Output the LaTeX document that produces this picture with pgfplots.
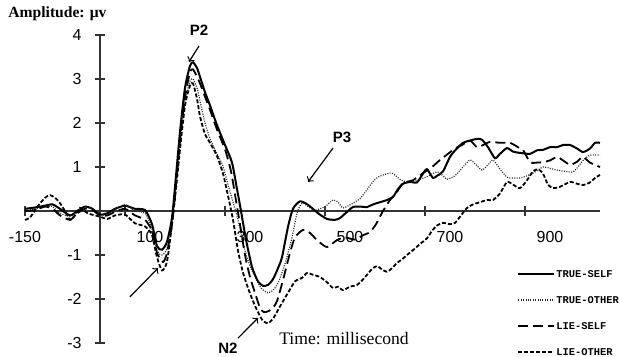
\documentclass[border=0pt]{standalone}
\usepackage{fontspec}
\setmainfont{Liberation Serif}
\setsansfont{Liberation Sans}
\setmonofont{Liberation Mono}
\usepackage{pgfplots}
\pgfplotsset{compat=1.18}
\begin{document}
\begin{tikzpicture}
\useasboundingbox (-12.5pt,-7pt) rectangle (297.5pt,171.5pt);
\begin{axis}[
  at={(0pt,0pt)}, anchor=south west,
  scale only axis, width=287.5pt, height=154pt,
  xmin=-150, xmax=1000, ymin=-3, ymax=4,
  axis lines=middle,
  axis line style={-, line width=0.6pt, black!80},
  clip=false,
  xtick={-150,50,250,450,650,850}, xticklabels={,,,,,},
  extra x ticks={-150,100,300,500,700,900},
  extra x tick labels={-150,100,300,500,700,900},
  extra x tick style={major tick length=0pt, grid=none},
  ytick={-3,-2,-1,1,2,3,4},
  yticklabels={-3,-2,-1,1,2,3,4},
  tick align=center, major tick length=5pt,
  tick style={line width=0.6pt, black!80},
  xticklabel style={anchor=center, inner sep=0pt, yshift=-13pt, font=\sffamily\fontsize{8}{9}\selectfont},
  yticklabel style={anchor=east, inner sep=0pt, xshift=-6.5pt, font=\sffamily\fontsize{8}{9}\selectfont},
  legend style={at={(0.8557,0.0974)}, anchor=west, draw=none, fill=none, inner sep=0pt,
    row sep=8.5pt, font=\ttfamily\bfseries\fontsize{5.2}{5.2}\selectfont,
    nodes={inner sep=0.5pt, text height=3.6pt, text depth=0pt},
    /tikz/every even column/.append style={column sep=1.5pt}},
  legend cell align=left,
  legend image code/.code={\draw[#1] (0pt,0pt) -- (18pt,0pt);},
]
\addplot[black, line width=1pt, smooth, tension=0.4] coordinates {
(-150,0.05) (-130,0.08) (-110,0.12) (-95,0.15) (-80,0.05) (-60,-0.1) (-45,0.0) (-30,0.1) (-15,0.05) (0,-0.08) (15,-0.05) (30,0.05) (50,0.12) (70,0.05) (90,0.02) (104,-0.3) (114,-0.8) (124,-0.88) (134,-0.7) (144,-0.15) (152,0.8) (160,1.8) (170,2.8) (180,3.3) (186,3.38) (194,3.25) (200,3.05) (210,2.7) (220,2.4) (234,1.95) (250,1.5) (264,1.1) (274,0.5) (282,0.0) (292,-0.65) (304,-1.27) (316,-1.6) (326,-1.7) (336,-1.68) (346,-1.55) (356,-1.3) (364,-1.05) (376,-0.36) (386,0.05) (400,0.22) (416,0.14) (436,-0.05) (454,-0.18) (470,-0.2) (480,-0.16) (494,-0.02) (506,0.09) (520,0.1) (534,0.09) (546,0.15) (560,0.2) (574,0.25) (586,0.32) (596,0.5) (606,0.62) (620,0.66) (634,0.65) (646,0.85) (654,0.95) (666,0.75) (674,0.8) (686,0.9) (700,1.23) (712,1.4) (726,1.55) (740,1.6) (754,1.64) (764,1.62) (776,1.45) (790,1.2) (800,1.3) (814,1.43) (826,1.35) (840,1.32) (860,1.3) (874,1.38) (886,1.39) (900,1.45) (914,1.45) (926,1.5) (940,1.5) (954,1.42) (966,1.34) (980,1.42) (990,1.55) (1000,1.55)
};
\addlegendentry{TRUE-SELF}
\addplot[black!85, line width=0.6pt, dash pattern=on 0.5pt off 0.7pt, smooth, tension=0.4] coordinates {
(-150,0.0) (-130,0.05) (-110,0.1) (-95,0.1) (-80,-0.05) (-60,-0.12) (-45,-0.02) (-30,0.08) (-15,0.05) (0,-0.1) (15,-0.08) (30,0.03) (50,0.15) (70,0.0) (90,-0.05) (104,-0.4) (114,-0.9) (124,-1.0) (134,-0.85) (144,-0.2) (152,0.6) (160,1.5) (170,2.5) (180,2.95) (186,3.0) (194,2.8) (200,2.5) (210,2.0) (220,1.65) (234,1.3) (245,1.05) (256,0.6) (266,0.2) (276,-0.2) (290,-0.9) (300,-1.25) (310,-1.5) (322,-1.75) (336,-1.86) (346,-1.8) (356,-1.64) (370,-1.2) (384,-0.6) (394,-0.05) (404,0.18) (416,0.1) (430,0.02) (450,0.1) (466,0.25) (476,0.2) (486,0.07) (500,0.14) (520,0.28) (535,0.5) (550,0.72) (566,0.82) (584,0.86) (600,0.72) (612,0.66) (626,0.66) (640,0.72) (654,0.78) (674,0.89) (686,0.8) (694,0.72) (710,0.8) (726,1.0) (740,1.16) (752,1.05) (764,0.93) (776,1.05) (786,1.16) (800,0.95) (814,0.77) (826,0.75) (840,0.75) (854,0.8) (866,0.86) (886,1.0) (900,0.97) (914,0.93) (930,0.9) (946,0.89) (956,1.0) (966,1.15) (980,1.27) (1000,1.27)
};
\addlegendentry{TRUE-OTHER}
\addplot[black, line width=0.9pt, dash pattern=on 5pt off 2.5pt, smooth, tension=0.4] coordinates {
(-150,0.0) (-130,0.02) (-110,0.1) (-95,0.05) (-80,-0.1) (-60,-0.2) (-45,-0.05) (-30,0.05) (-15,0.02) (0,-0.1) (15,-0.1) (30,-0.02) (50,0.05) (70,-0.1) (90,-0.2) (104,-0.45) (114,-0.95) (126,-1.16) (134,-0.95) (144,-0.3) (152,0.6) (160,1.6) (170,2.6) (180,3.15) (186,3.22) (194,3.05) (200,2.9) (210,2.6) (220,2.3) (234,1.85) (250,1.4) (262,0.9) (274,0.1) (280,-0.3) (290,-1.0) (300,-1.5) (310,-1.86) (320,-2.2) (328,-2.3) (338,-2.27) (346,-2.2) (354,-2.05) (366,-1.57) (380,-0.95) (390,-0.6) (406,-0.43) (420,-0.5) (434,-0.66) (454,-0.82) (474,-0.66) (490,-0.6) (510,-0.65) (526,-0.55) (540,-0.48) (552,-0.3) (566,0.0) (580,0.25) (592,0.4) (606,0.63) (626,0.7) (646,0.86) (664,1.0) (680,1.16) (696,1.3) (710,1.42) (724,1.5) (740,1.6) (754,1.45) (766,1.5) (780,1.57) (800,1.55) (820,1.55) (836,1.45) (846,1.39) (860,1.11) (874,1.1) (886,1.11) (900,1.15) (914,1.23) (926,1.15) (940,1.05) (954,1.12) (966,1.23) (980,1.1) (1000,1.0)
};
\addlegendentry{LIE-SELF}
\addplot[black, line width=0.9pt, dash pattern=on 2pt off 1pt, smooth, tension=0.4] coordinates {
(-150,-0.2) (-140,-0.15) (-125,0.1) (-110,0.3) (-100,0.36) (-90,0.3) (-80,0.18) (-70,0.0) (-60,-0.2) (-50,-0.1) (-40,0.07) (-25,-0.05) (-10,-0.1) (0,-0.13) (15,-0.18) (30,-0.1) (50,-0.08) (70,-0.28) (90,-0.35) (104,-0.55) (114,-1.05) (124,-1.35) (134,-1.15) (144,-0.3) (152,0.5) (160,1.4) (170,2.4) (180,2.85) (186,2.9) (194,2.55) (200,2.15) (210,1.75) (220,1.55) (234,1.25) (246,0.85) (256,0.35) (266,-0.2) (276,-0.9) (286,-1.4) (296,-1.75) (306,-2.05) (316,-2.3) (326,-2.5) (336,-2.55) (346,-2.45) (356,-2.25) (366,-2.05) (376,-1.86) (390,-1.6) (404,-1.52) (414,-1.41) (426,-1.45) (440,-1.5) (454,-1.62) (466,-1.75) (476,-1.72) (486,-1.8) (500,-1.72) (514,-1.68) (524,-1.58) (534,-1.45) (544,-1.32) (554,-1.25) (564,-1.33) (574,-1.38) (584,-1.3) (594,-1.18) (604,-1.1) (614,-1.0) (626,-0.89) (640,-0.75) (654,-0.62) (664,-0.45) (674,-0.33) (686,-0.27) (700,-0.3) (710,-0.27) (722,-0.1) (734,0.07) (746,0.15) (760,0.2) (774,0.25) (786,0.25) (800,0.4) (814,0.66) (826,0.6) (840,0.52) (854,0.7) (866,0.9) (876,0.95) (886,0.85) (896,0.6) (906,0.52) (920,0.55) (940,0.66) (954,0.62) (966,0.59) (980,0.65) (990,0.75) (1000,0.82)
};
\addlegendentry{LIE-OTHER}
% annotations
\node[anchor=west, inner sep=0pt, font=\bfseries\fontsize{7.8}{9}\selectfont] at (axis cs:-184,4.48) {Amplitude: μv};
\node[inner sep=0pt, font=\fontsize{8.8}{10}\selectfont] at (axis cs:488,-2.89) {Time: millisecond};
\node[inner sep=0pt, font=\sffamily\bfseries\fontsize{7.5}{9}\selectfont] at (axis cs:198,4.1) {P2};
\node[inner sep=0pt, font=\sffamily\bfseries\fontsize{7.5}{9}\selectfont] at (axis cs:484,1.68) {P3};
\node[inner sep=0pt, font=\sffamily\bfseries\fontsize{7.5}{9}\selectfont] at (axis cs:256,-3.11) {N2};
\draw[->, line width=0.6pt] (axis cs:198,3.75) -- (axis cs:178,3.39);
\draw[->, line width=0.6pt] (axis cs:466,1.43) -- (axis cs:416,0.66);
\draw[->, line width=0.6pt] (axis cs:276,-2.89) -- (axis cs:316,-2.43);
\draw[->, line width=0.6pt] (axis cs:60,-1.95) -- (axis cs:116,-1.30);
\end{axis}
\end{tikzpicture}
\end{document}
